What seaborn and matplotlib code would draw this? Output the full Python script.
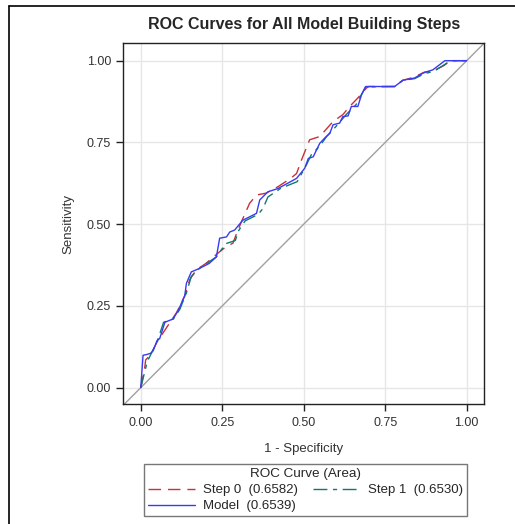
import matplotlib
matplotlib.use('Agg')
import matplotlib.pyplot as plt
from matplotlib.lines import Line2D
import seaborn as sns
import pandas as pd

# Curvas ROC (1 - especificidad, sensibilidad)
model_fpr = [0, 0.007, 0.017, 0.03, 0.038, 0.05, 0.058, 0.074, 0.099, 0.115, 0.135, 0.14,
             0.155, 0.181, 0.21, 0.232, 0.242, 0.263, 0.273, 0.288, 0.313, 0.355, 0.365,
             0.39, 0.421, 0.478, 0.503, 0.514, 0.529, 0.549, 0.564, 0.58, 0.59, 0.61, 0.62,
             0.636, 0.646, 0.666, 0.677, 0.69, 0.779, 0.804, 0.84, 0.866, 0.896, 0.933, 1.0]
model_tpr = [0, 0.099, 0.101, 0.105, 0.113, 0.144, 0.15, 0.2, 0.21, 0.236, 0.282, 0.319,
             0.354, 0.365, 0.38, 0.4, 0.457, 0.461, 0.476, 0.482, 0.512, 0.533, 0.574,
             0.599, 0.609, 0.64, 0.671, 0.701, 0.706, 0.747, 0.763, 0.778, 0.804, 0.809, 0.829,
             0.831, 0.86, 0.86, 0.895, 0.921, 0.921, 0.94, 0.947, 0.962, 0.972, 1.0, 1.0]

step0_fpr = [0, 0.012, 0.015, 0.03, 0.05, 0.07, 0.09, 0.11, 0.135, 0.15, 0.17, 0.2, 0.235,
             0.26, 0.283, 0.294, 0.31, 0.334, 0.355, 0.385, 0.42, 0.46, 0.478, 0.493, 0.518,
             0.549, 0.59, 0.62, 0.641, 0.666, 0.692, 0.7, 0.779, 0.804, 0.84, 0.87, 0.9, 0.93,
             0.95, 1.0]
step0_tpr = [0, 0.06, 0.085, 0.1, 0.14, 0.17, 0.2, 0.23, 0.28, 0.33, 0.36, 0.38, 0.41,
             0.43, 0.442, 0.472, 0.51, 0.564, 0.589, 0.595, 0.614, 0.64, 0.655, 0.696, 0.758,
             0.768, 0.814, 0.835, 0.86, 0.886, 0.916, 0.921, 0.921, 0.94, 0.95, 0.965, 0.97,
             0.985, 1.0, 1.0]

step1_fpr = [0, 0.02, 0.03, 0.05, 0.07, 0.1, 0.12, 0.14, 0.155, 0.18, 0.232, 0.26, 0.29,
             0.3, 0.32, 0.36, 0.375, 0.39, 0.43, 0.48, 0.508, 0.523, 0.55, 0.57, 0.6, 0.63,
             0.66, 0.69, 0.779, 0.804, 0.84, 0.87, 0.9, 0.935, 0.95, 1.0]
step1_tpr = [0, 0.08, 0.1, 0.14, 0.2, 0.21, 0.24, 0.29, 0.34, 0.365, 0.4, 0.44, 0.45,
             0.48, 0.51, 0.53, 0.548, 0.583, 0.61, 0.63, 0.681, 0.712, 0.74, 0.768, 0.8, 0.835,
             0.865, 0.92, 0.921, 0.94, 0.945, 0.96, 0.968, 0.99, 1.0, 1.0]

labels = ['Step 0  (0.6582)', 'Step 1  (0.6530)', 'Model  (0.6539)']
ticks = [0.0, 0.25, 0.5, 0.75, 1.0]

sns.set_style('white')
plt.rcParams['font.family'] = ['Liberation Sans', 'DejaVu Sans']

fig = plt.figure(figsize=(5.15, 5.24), dpi=100)
ax = fig.add_axes([0.2398, 0.2284, 0.700, 0.6895])

estilos = [
    (step0_fpr, step0_tpr, '#C8303C', (0, (9, 5))),
    (step1_fpr, step1_tpr, '#0E7A6E', (0, (10, 4, 3, 4))),
    (model_fpr, model_tpr, '#3A3AF0', '-'),
]

handles = []
for (fpr, tpr, color, ls), lab in zip(estilos, labels):
    df = pd.DataFrame({'fpr': fpr, 'tpr': tpr})
    sns.lineplot(data=df, x='fpr', y='tpr', sort=False, estimator=None, ax=ax,
                 color=color, linestyle=ls, linewidth=1.0)
    handles.append(Line2D([], [], color=color, linestyle=ls, linewidth=1.0, label=lab))

# diagonal de referencia
ax.axline((0, 0), (1, 1), color='#A0A0A0', linewidth=1.0, zorder=1)

ax.set_xlim(-0.053, 1.053)
ax.set_ylim(-0.051, 1.054)
ax.set_xticks(ticks)
ax.set_yticks(ticks)
ax.set_xticklabels([f'{t:.2f}' for t in ticks])
ax.set_yticklabels([f'{t:.2f}' for t in ticks])
ax.grid(True, color='#E6E6E6', linewidth=1.0)
ax.set_axisbelow(True)
for s in ax.spines.values():
    s.set_color('#222222')
    s.set_linewidth(1.0)
ax.tick_params(axis='both', labelsize=9, color='#222222', length=5, width=1,
               direction='out', bottom=True, left=True, labelcolor='#333333', pad=4)
ax.set_xlabel('1 - Specificity', fontsize=9.5, color='#333333', labelpad=10)
ax.set_ylabel('Sensitivity', fontsize=9.5, color='#333333', labelpad=9)
ax.set_title('ROC Curves for All Model Building Steps', fontsize=11.5, fontweight='bold',
             pad=10)

# orden para que la leyenda quede por filas
leg = fig.legend(handles=[handles[0], handles[2], handles[1]],
                 labels=[labels[0], labels[2], labels[1]],
                 title='ROC Curve (Area)', ncol=2, loc='upper center',
                 bbox_to_anchor=(0.593, 0.1145), fontsize=9.5, title_fontsize=9.7,
                 frameon=True, fancybox=False, handlelength=3.6, handletextpad=0.6,
                 columnspacing=1.1, borderpad=0.3, labelspacing=0.3, borderaxespad=0)
leg.get_frame().set_edgecolor('#555555')
leg.get_frame().set_linewidth(1.0)

# borde exterior del gráfico
fig.add_artist(Line2D([9 / 515, 1.0], [1 - 6 / 524, 1 - 6 / 524], color='black',
                      linewidth=1.2, transform=fig.transFigure))
fig.add_artist(Line2D([9 / 515, 9 / 515], [0.0, 1 - 6 / 524], color='black',
                      linewidth=1.2, transform=fig.transFigure))

fig.savefig('out.png', dpi=100)
